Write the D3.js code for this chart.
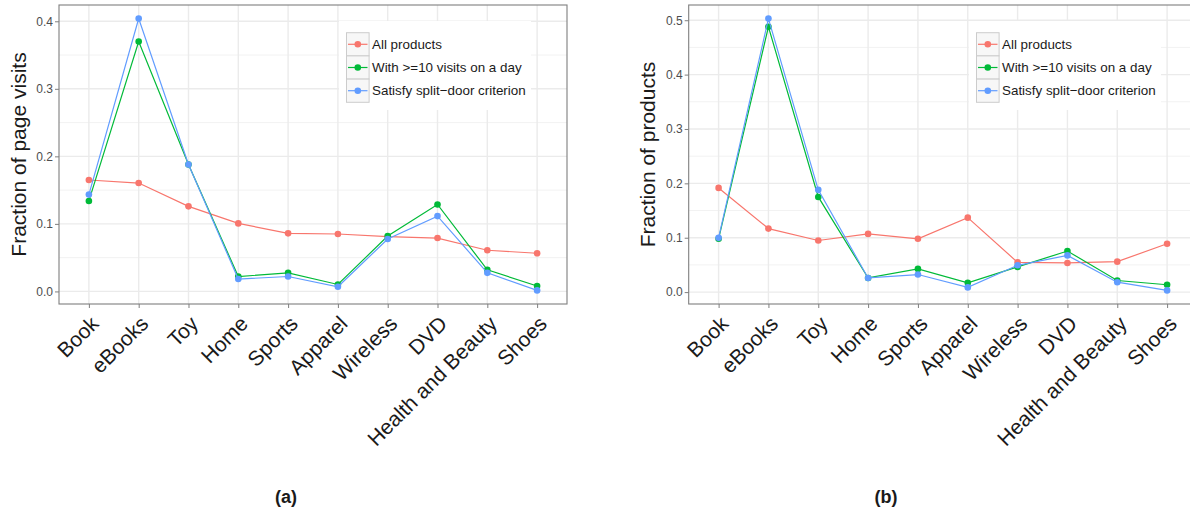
<!DOCTYPE html>
<html>
<head>
<meta charset="utf-8">
<script src="https://cdn.jsdelivr.net/npm/d3@7"></script>
<style>
  body { margin: 0; background: #fff; }
  svg { display: block; font-family: "Liberation Sans", Arial, Helvetica, sans-serif; }
</style>
</head>
<body>
<div id="chart"></div>
<script>
// categories on the x axis (same for both panels)
const categories = ["Book", "eBooks", "Toy", "Home", "Sports", "Apparel", "Wireless", "DVD", "Health and Beauty", "Shoes"];

// series names + ggplot default hues
const seriesNames = ["All products", "With >=10 visits on a day", "Satisfy split\u2212door criterion"];
const seriesColours = ["#F8766D", "#00BA38", "#619CFF"];

// (a) fraction of page visits
const visitsAll   = [0.165, 0.1605, 0.126, 0.1007, 0.086, 0.085, 0.081, 0.079, 0.061, 0.0565];
const visitsHigh  = [0.134, 0.370, 0.188, 0.022, 0.0275, 0.0103, 0.082, 0.1287, 0.032, 0.008];
const visitsSplit = [0.1434, 0.404, 0.188, 0.0183, 0.0221, 0.0069, 0.0776, 0.1115, 0.0275, 0.0015];

// (b) fraction of products
const productsAll   = [0.1916, 0.1168, 0.0949, 0.107, 0.098, 0.1369, 0.0547, 0.0536, 0.056, 0.0889];
const productsHigh  = [0.098, 0.488, 0.175, 0.026, 0.0427, 0.0171, 0.0463, 0.0755, 0.0213, 0.0135];
const productsSplit = [0.0998, 0.503, 0.188, 0.026, 0.0323, 0.0086, 0.0493, 0.0675, 0.0182, 0.0031];

const yTicksA = [0, 0.1, 0.2, 0.3, 0.4];
const yTicksB = [0, 0.1, 0.2, 0.3, 0.4, 0.5];

const W = 1190, H = 512;
const svg = d3.select("#chart").append("svg").attr("width", W).attr("height", H);

function drawPanel(opt) {
  const { left, right, top, bottom, series, ticks, title, titleX, caption, captionX } = opt;
  const g = svg.append("g");

  const x = d3.scalePoint().domain(categories).range([left, right]).padding(0.6);
  const all = series.flat();
  const lo = d3.min(all), hi = d3.max(all), pad = (hi - lo) * 0.05;
  const y = d3.scaleLinear().domain([lo - pad, hi + pad]).range([bottom, top]);

  // panel background
  g.append("rect").attr("x", left).attr("y", top).attr("width", right - left).attr("height", bottom - top)
    .attr("fill", "#fff");

  // minor grid
  const minor = ticks.map(t => t + 0.05).filter(t => y(t) > top);
  g.selectAll(".minor").data(minor).enter().append("line")
    .attr("x1", left).attr("x2", right).attr("y1", d => y(d)).attr("y2", d => y(d))
    .attr("stroke", "#f2f2f2").attr("stroke-width", 1);

  // major grid
  g.selectAll(".hmaj").data(ticks).enter().append("line")
    .attr("x1", left).attr("x2", right).attr("y1", d => y(d)).attr("y2", d => y(d))
    .attr("stroke", "#ebebeb").attr("stroke-width", 1.4);
  g.selectAll(".vmaj").data(categories).enter().append("line")
    .attr("x1", d => x(d)).attr("x2", d => x(d)).attr("y1", top).attr("y2", bottom)
    .attr("stroke", "#ebebeb").attr("stroke-width", 1.4);

  // axes
  const yAxis = g.append("g").attr("transform", `translate(${left},0)`)
    .call(d3.axisLeft(y).tickValues(ticks).tickFormat(d3.format(".1f")).tickSize(4).tickPadding(2));
  yAxis.select(".domain").remove();
  yAxis.selectAll(".tick line").attr("stroke", "#7f7f7f");
  yAxis.selectAll("text").attr("fill", "#4d4d4d").style("font-size", "12px");

  const xAxis = g.append("g").attr("transform", `translate(0,${bottom})`)
    .call(d3.axisBottom(x).tickSize(4).tickFormat(""));
  xAxis.select(".domain").remove();
  xAxis.selectAll(".tick line").attr("stroke", "#7f7f7f");

  g.selectAll(".xlab").data(categories).enter().append("text")
    .attr("transform", d => `translate(${x(d) + 11},${bottom + 21}) rotate(-45)`)
    .attr("text-anchor", "end")
    .style("font-size", "21px").attr("fill", "#1a1a1a")
    .text(d => d);

  // lines + points
  const line = d3.line().x((d, i) => x(categories[i])).y(d => y(d));
  series.forEach((s, k) => {
    g.append("path").datum(s).attr("d", line).attr("fill", "none")
      .attr("stroke", seriesColours[k]).attr("stroke-width", 1.2);
    g.selectAll(".pt" + k).data(s).enter().append("circle")
      .attr("cx", (d, i) => x(categories[i])).attr("cy", d => y(d)).attr("r", 3.3)
      .attr("fill", seriesColours[k]);
  });

  // border
  g.append("rect").attr("x", left).attr("y", top).attr("width", right - left).attr("height", bottom - top)
    .attr("fill", "none").attr("stroke", "#7f7f7f").attr("stroke-width", 1.1);

  // legend
  const lx = right - 228, ly = top + 16;
  const leg = g.append("g");
  leg.append("rect").attr("x", lx).attr("y", ly).attr("width", 192).attr("height", 89).attr("fill", "#fff");
  seriesNames.forEach((n, k) => {
    const ky = ly + 11.7 + k * 23.2;
    leg.append("rect").attr("x", lx + 7.5).attr("y", ky).attr("width", 22.6).attr("height", 23.2)
      .attr("fill", "#f7f7f7").attr("stroke", "#cccccc").attr("stroke-width", 1);
    leg.append("line").attr("x1", lx + 9).attr("x2", lx + 28.5).attr("y1", ky + 11.6).attr("y2", ky + 11.6)
      .attr("stroke", seriesColours[k]).attr("stroke-width", 1.2);
    leg.append("circle").attr("cx", lx + 18.8).attr("cy", ky + 11.6).attr("r", 3.3).attr("fill", seriesColours[k]);
    leg.append("text").attr("x", lx + 33).attr("y", ky + 16.3).style("font-size", "13.4px").attr("fill", "#1a1a1a").text(n);
  });

  // y title
  svg.append("text").attr("transform", `translate(${titleX},${(top + bottom) / 2}) rotate(-90)`)
    .attr("text-anchor", "middle").style("font-size", "21px").attr("fill", "#1a1a1a").text(title);

  // caption
  svg.append("text").attr("x", captionX).attr("y", 503).attr("text-anchor", "middle")
    .style("font-size", "18px").style("font-weight", "bold").attr("fill", "#1a1a1a").text(caption);
}

drawPanel({
  left: 59, right: 567, top: 5, bottom: 304,
  series: [visitsAll, visitsHigh, visitsSplit], ticks: yTicksA,
  title: "Fraction of page visits", titleX: 26, caption: "(a)", captionX: 286
});
drawPanel({
  left: 688.7, right: 1197, top: 5, bottom: 304,
  series: [productsAll, productsHigh, productsSplit], ticks: yTicksB,
  title: "Fraction of products", titleX: 655, caption: "(b)", captionX: 886
});
</script>
</body>
</html>
